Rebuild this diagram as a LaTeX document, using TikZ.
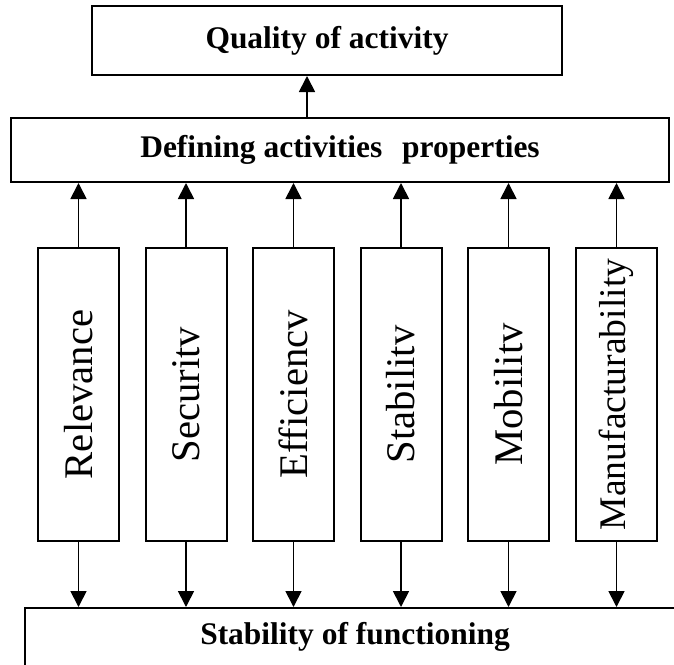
\documentclass[tikz,border=0pt]{standalone}
\usepackage{fontspec}
\setmainfont{Liberation Serif}
\usepackage{graphicx}
\usetikzlibrary{arrows.meta}
\newcommand{\vtext}[1]{\rotatebox{90}{#1}}

\begin{document}
\begin{tikzpicture}[x=0.75pt,y=-0.75pt,
		headbox/.style={rectangle,draw,line width=1.5pt,inner sep=0pt,font=\fontsize{23.6}{28}\selectfont\bfseries},
		propbox/.style={rectangle,draw,line width=1.5pt,inner sep=0pt,minimum width=60.75pt,minimum height=219.75pt,font=\fontsize{30.5}{36}\selectfont},
		arr/.style={line width=1.3pt,-{Triangle[length=12pt,width=12pt]}}
		]
		\path[use as bounding box,fill=white] (0,0) rectangle (674,664);
		\node (quality) [headbox,minimum width=352.5pt,minimum height=51.75pt] at (327,40.5) {Quality of activity};
		\node (defining) [headbox,minimum width=493.5pt,minimum height=48pt] at (340,150) {Defining activities\hspace{0.63em}properties};
		\node (functioning) [headbox,minimum width=495pt,minimum height=43.5pt] at (355,637) {Stability of functioning};
		\coordinate (qa) at (307,0);
		\node (relevance) [propbox] at (78.5,394.5) {\vtext{Relevance}};
		\node (security) [propbox] at (186,394.5) {\vtext{Securitv}};
		\node (efficiency) [propbox] at (293.5,394.5) {\vtext{Efficiencv}};
		\node (stability) [propbox] at (401,394.5) {\vtext{Stabilitv}};
		\node (mobility) [propbox] at (508.5,394.5) {\vtext{Mobilitv}};
		\node (manufact) [propbox,font=\fontsize{28.2}{34}\selectfont] at (616.5,394.5) {\vtext{Manufacturability}};
		\draw[arr] (defining.north -| qa) -- (quality.south -| qa);
		\foreach \p in {relevance,security,efficiency,stability,mobility,manufact}{
			\draw[arr] (\p.north) -- (\p.north |- defining.south);
			\draw[arr] (\p.south) -- (\p.south |- functioning.north);
		}
\end{tikzpicture}
\end{document}
